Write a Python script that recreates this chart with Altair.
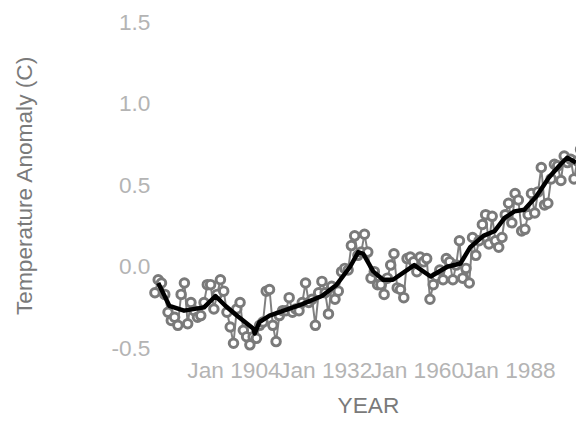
import altair as alt
import pandas as pd

# Annual temperature anomaly (C)
years = list(range(1880, 2011))
anomaly = [
    -0.16, -0.08, -0.10, -0.17, -0.28, -0.33, -0.31, -0.36, -0.17, -0.10,
    -0.35, -0.22, -0.27, -0.31, -0.30, -0.22, -0.11, -0.11, -0.26, -0.17,
    -0.08, -0.15, -0.28, -0.37, -0.47, -0.26, -0.22, -0.39, -0.43, -0.48,
    -0.43, -0.44, -0.36, -0.34, -0.15, -0.14, -0.36, -0.46, -0.30, -0.27,
    -0.27, -0.19, -0.28, -0.26, -0.27, -0.22, -0.10, -0.22, -0.20, -0.36,
    -0.16, -0.09, -0.16, -0.29, -0.12, -0.20, -0.15, -0.03, -0.01, -0.02,
    0.13, 0.19, 0.07, 0.09, 0.20, 0.09, -0.07, -0.03, -0.11, -0.11,
    -0.17, -0.07, 0.01, 0.08, -0.13, -0.14, -0.19, 0.05, 0.06, 0.03,
    -0.03, 0.06, 0.03, 0.05, -0.20, -0.11, -0.06, -0.02, -0.08, 0.05,
    0.03, -0.08, 0.01, 0.16, -0.07, -0.01, -0.10, 0.18, 0.07, 0.16,
    0.26, 0.32, 0.14, 0.31, 0.16, 0.12, 0.18, 0.32, 0.39, 0.27,
    0.45, 0.41, 0.22, 0.23, 0.32, 0.45, 0.33, 0.46, 0.61, 0.38,
    0.39, 0.54, 0.63, 0.62, 0.53, 0.68, 0.64, 0.66, 0.54, 0.65,
    0.72,
]

# Smoothed trend line (black)
smooth_years = [1881.0, 1884.4, 1888.9, 1895.0, 1898.5, 1901.5, 1905.0, 1910.0,
                1910.5, 1911.9, 1915.0, 1925.0, 1931.0, 1935.5, 1939.6, 1942.1,
                1943.6, 1946.7, 1949.7, 1952.7, 1959.2, 1964.2, 1969.3, 1973.3,
                1976.3, 1980.3, 1983.8, 1986.8, 1989.8, 1992.8, 1996.4, 2000.4,
                2003.9, 2005.9, 2008.6]
smooth_vals = [-0.10, -0.24, -0.27, -0.25, -0.18, -0.24, -0.30, -0.38,
               -0.41, -0.34, -0.30, -0.23, -0.18, -0.11, 0.00, 0.09,
               0.08, -0.03, -0.08, -0.08, 0.01, -0.06, 0.00, 0.02,
               0.12, 0.19, 0.22, 0.30, 0.34, 0.35, 0.43, 0.55,
               0.63, 0.67, 0.64]

x_ticks = [1904, 1932, 1960, 1988]
y_ticks = [-0.5, 0.0, 0.5, 1.0, 1.5]

df = pd.DataFrame({"year": years, "anomaly": anomaly})
sm = pd.DataFrame({"year": smooth_years, "anomaly": smooth_vals})

FONT = "Liberation Sans"

x_enc = alt.X(
    "year:Q",
    scale=alt.Scale(domain=[1880, 2008.6], nice=False, zero=False),
    axis=alt.Axis(
        values=x_ticks,
        labelExpr="'Jan ' + datum.value",
        title="YEAR",
        titleX=216,
        titleY=65,
        titleBaseline="alphabetic",
        titleAlign="center",
        labelPadding=12,
        labelOverlap=False,
        labelFlush=False,
    ),
)
y_enc = alt.Y(
    "anomaly:Q",
    scale=alt.Scale(domain=[-0.5, 1.5], nice=False, zero=False),
    axis=alt.Axis(
        values=y_ticks,
        labelExpr="replace(format(datum.value, '.1f'), '\u2212', '-')",
        title="Temperature Anomaly (C)",
        titleX=-125,
        titleY=165,
        titleAngle=270,
        titleBaseline="alphabetic",
        titleAlign="center",
        labelPadding=5,
    ),
)

gray_line = alt.Chart(df).mark_line(color="#808080", strokeWidth=2).encode(x=x_enc, y=y_enc)
points = alt.Chart(df).mark_point(
    shape="circle", filled=False, fill="white", fillOpacity=1,
    stroke="#7a7a7a", strokeWidth=3, size=75, opacity=1,
).encode(x=x_enc, y=y_enc)
trend = alt.Chart(sm).mark_line(color="black", strokeWidth=4.5, strokeJoin="round").encode(x=x_enc, y=y_enc)

chart = (
    alt.layer(gray_line, points, trend)
    .properties(
        width=427,
        height=330,
        autosize=alt.AutoSizeParams(type="none"),
        padding={"left": 149, "top": 12, "right": 0, "bottom": 69},
    )
    .configure_view(stroke=None)
    .configure_axis(
        domain=False,
        ticks=False,
        tickSize=0,
        grid=False,
        labelFont=FONT,
        labelFontSize=23,
        labelColor="#b4b4b4",
        titleFont=FONT,
        titleFontSize=23,
        titleFontWeight="normal",
        titleColor="#7a7a7a",
    )
)

chart.save("out.html", embed_options={"renderer": "svg", "actions": False})
